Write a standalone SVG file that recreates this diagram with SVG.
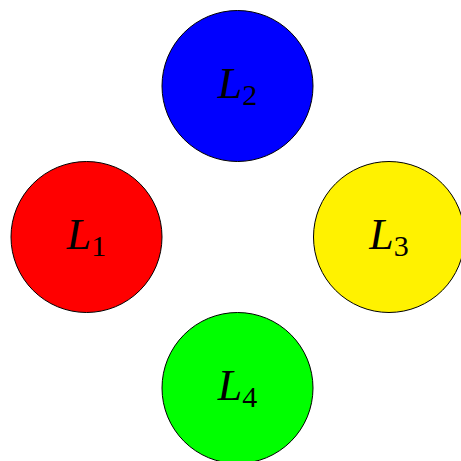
<svg xmlns="http://www.w3.org/2000/svg" width="461" height="461" viewBox="0 0 461 461">
<style>
.n{stroke:#000;stroke-width:1}
.t{font-family:"Liberation Serif","Times New Roman",serif;font-size:44px;fill:#000;text-anchor:middle}
.i{font-style:italic}
.s{font-size:30px}
</style>
<rect width="461" height="461" fill="#fff"/>
<g id="connectors"/>
<g id="L2"><circle class="n" cx="237.5" cy="86" r="75.5" fill="#0000ff"/><text class="t" x="237.5" y="98"><tspan class="i">L</tspan><tspan class="s" dy="7">2</tspan></text></g>
<g id="L1"><circle class="n" cx="86.5" cy="237" r="75.5" fill="#ff0000"/><text class="t" x="86.5" y="249"><tspan class="i">L</tspan><tspan class="s" dy="7">1</tspan></text></g>
<g id="L3"><circle class="n" cx="389" cy="237" r="75.5" fill="#fff200"/><text class="t" x="389" y="249"><tspan class="i">L</tspan><tspan class="s" dy="7">3</tspan></text></g>
<g id="L4"><circle class="n" cx="237.5" cy="388" r="75.5" fill="#00ff00"/><text class="t" x="237.5" y="400"><tspan class="i">L</tspan><tspan class="s" dy="7">4</tspan></text></g>
</svg>
